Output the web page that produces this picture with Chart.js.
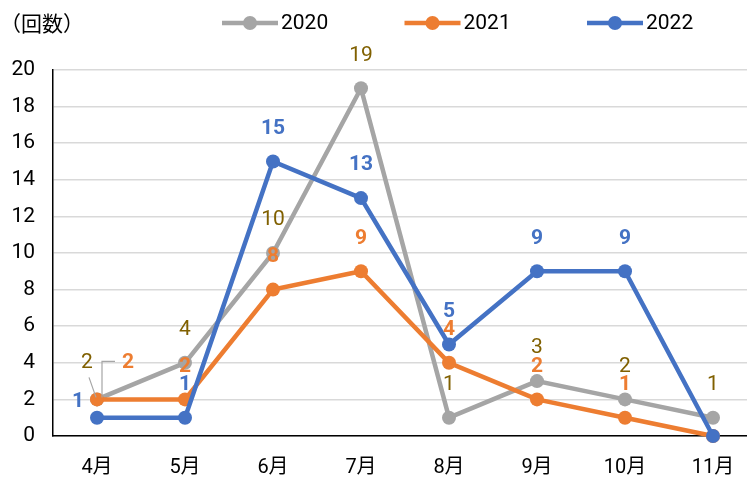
<!DOCTYPE html>
<html>
<head>
<meta charset="utf-8">
<script src="https://cdn.jsdelivr.net/npm/chart.js@4/dist/chart.umd.min.js"></script>
<style>
  html, body { margin: 0; padding: 0; background: #fff; overflow: hidden; }
  #wrap { width: 747px; height: 477px; overflow: hidden; }
</style>
</head>
<body>
<div id="wrap"><canvas id="c" width="764" height="477"></canvas></div>
<script>
const months = ["4月", "5月", "6月", "7月", "8月", "9月", "10月", "11月"];
const years = ["2020", "2021", "2022"];
const counts2020 = [2, 4, 10, 19, 1, 3, 2, 1];
const counts2021 = [2, 2, 8, 9, 4, 2, 1, 0];
const counts2022 = [1, 1, 15, 13, 5, 9, 9, 0];
const yTicks = [0, 2, 4, 6, 8, 10, 12, 14, 16, 18, 20];

const lineColors = ['#a5a5a5', '#ed7d31', '#4472c4'];
const labelColors = ['#806000', '#ed7d31', '#4472c4'];
const labelWeights = ['normal', 'bold', 'bold'];
const FONT = "Roboto, 'Noto Sans CJK JP', sans-serif";

// label placement tweaks (dx, dy from the point), default sits above
const labelShift = {
    '0-0': [-10, -37],
    '1-0': [31, -37],
    '2-0': [-19, -16]
};
// data labels not shown in the original
const hiddenLabels = ['1-7', '2-7'];

const makeSet = (label, data, i) => ({
    label: label,
    data: data,
    borderColor: lineColors[i],
    backgroundColor: lineColors[i],
    borderWidth: 4.5,
    pointRadius: 7,
    pointHoverRadius: 7,
    pointBorderWidth: 0,
    tension: 0,
    clip: false,
    order: 3 - i
});

const dataLabels = {
    id: 'dataLabels',
    afterDatasetsDraw(chart) {
        const { ctx } = chart;
        ctx.save();
        chart.data.datasets.forEach((ds, i) => {
            const meta = chart.getDatasetMeta(i);
            meta.data.forEach((pt, j) => {
                const key = i + '-' + j;
                if (hiddenLabels.includes(key)) return;
                const [dx, dy] = labelShift[key] || [0, -33];
                ctx.font = labelWeights[i] + ' 21px ' + FONT;
                ctx.fillStyle = labelColors[i];
                ctx.textAlign = 'center';
                ctx.textBaseline = 'middle';
                ctx.fillText(String(ds.data[j]), pt.x + dx, pt.y + dy);
            });
        });
        // leader lines at 4月
        const p = chart.getDatasetMeta(0).data[0];
        ctx.strokeStyle = '#a6a6a6';
        ctx.lineWidth = 1.2;
        ctx.beginPath();
        ctx.moveTo(p.x - 8, p.y - 22);
        ctx.lineTo(p.x - 1, p.y - 2);
        ctx.moveTo(p.x + 18, p.y - 38);
        ctx.lineTo(p.x + 5, p.y - 38);
        ctx.lineTo(p.x + 5, p.y - 2);
        ctx.stroke();
        ctx.restore();
    }
};

const headerDraw = {
    id: 'headerDraw',
    afterDraw(chart) {
        const { ctx } = chart;
        ctx.save();
        ctx.fillStyle = '#000';
        ctx.textBaseline = 'middle';
        ctx.textAlign = 'left';
        ctx.font = "21px 'Noto Sans CJK JP', sans-serif";
        ctx.fillText('（回数）', 0, 23);
        ctx.font = '21px ' + FONT;
        years.forEach((y, i) => {
            const x0 = 222 + i * 182.5;
            ctx.strokeStyle = lineColors[i];
            ctx.lineWidth = 4.5;
            ctx.beginPath();
            ctx.moveTo(x0, 23);
            ctx.lineTo(x0 + 56, 23);
            ctx.stroke();
            ctx.fillStyle = lineColors[i];
            ctx.beginPath();
            ctx.arc(x0 + 28, 23, 7, 0, Math.PI * 2);
            ctx.fill();
            ctx.fillStyle = '#000';
            ctx.fillText(y, x0 + 59, 24);
        });
        ctx.restore();
    }
};

new Chart(document.getElementById('c'), {
    type: 'line',
    data: {
        labels: months,
        datasets: [
            makeSet(years[0], counts2020, 0),
            makeSet(years[1], counts2021, 1),
            makeSet(years[2], counts2022, 2)
        ]
    },
    options: {
        responsive: false,
        animation: false,
        events: [],
        layout: { padding: { top: 70, right: 2, left: 0, bottom: 0 } },
        plugins: {
            legend: { display: false },
            tooltip: { enabled: false }
        },
        scales: {
            x: {
                offset: true,
                grid: { display: false, drawTicks: false },
                border: { display: true, color: '#000', width: 1.5 },
                ticks: { color: '#000', font: { size: 20, family: FONT }, padding: 20, maxRotation: 0 },
                afterFit: (s) => { s.height = 41; }
            },
            y: {
                min: 0,
                max: 20,
                afterBuildTicks: (axis) => { axis.ticks = yTicks.map(v => ({ value: v })); },
                grid: { color: '#d9d9d9', lineWidth: 1.5, drawTicks: false },
                border: { display: true, color: '#000', width: 1.5 },
                ticks: { color: '#000', font: { size: 21, family: FONT }, padding: 18 },
                afterFit: (s) => { s.width = 53; }
            }
        }
    },
    plugins: [dataLabels, headerDraw]
});
</script>
</body>
</html>
